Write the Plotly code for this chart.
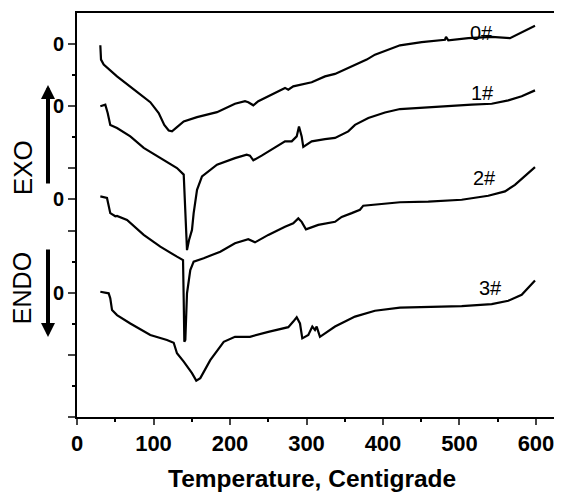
import plotly.graph_objects as go

# Temperature (°C) and offset DSC signal for each sample
t0 = [30.5, 31.4, 34.9, 52.3, 78.4, 95.8, 106.8, 114.1, 119.9, 124.2, 130.7, 139.5, 156.9, 183, 206.5,
      219.6, 223.9, 230.5, 237, 254.5, 271.9, 276.2, 282.7, 306.8, 324.2, 337.3, 359.1, 378.7, 389.5,
      406.9, 422.2, 450.6, 481, 482.4, 485.4, 511.5, 542.1, 566, 581.3, 598.7]
s0 = [11.96, 11.50, 11.34, 10.96, 10.46, 10.13, 9.78, 9.40, 9.22, 9.19, 9.33, 9.51, 9.65, 9.81, 10.08,
      10.16, 10.13, 10.03, 10.16, 10.37, 10.59, 10.53, 10.64, 10.77, 10.96, 11.04, 11.28, 11.50, 11.66,
      11.82, 11.96, 12.06, 12.14, 12.23, 12.12, 12.19, 12.23, 12.19, 12.39, 12.59]

t1 = [30.5, 37, 40.1, 43.5, 52.3, 69.7, 87.2, 108.9, 130.7, 139.5, 141.4, 143.8, 146.4, 150.3, 152.5,
      156.9, 163.4, 183, 206.5, 221.8, 226.1, 230.5, 241.4, 271.9, 280.7, 287.2, 290.2, 293.7, 295.8,
      306.8, 324.2, 337.3, 354.6, 363.4, 380.8, 402.6, 422.2, 441.8, 481, 515.9, 542.1, 563.8, 581.3, 598.7]
s1 = [10.00, 10.05, 9.78, 9.40, 9.30, 9.03, 8.66, 8.33, 8.01, 7.80, 6.66, 5.37, 5.69, 6.02, 6.56,
      7.31, 7.74, 8.12, 8.33, 8.44, 8.41, 8.26, 8.41, 8.87, 8.87, 9.03, 9.35, 9.03, 8.69,
      8.87, 8.94, 8.98, 9.19, 9.40, 9.62, 9.80, 9.91, 9.94, 10.02, 10.05, 10.08, 10.19, 10.32, 10.51]

t2 = [30.5, 39.2, 43.5, 50.1, 52.3, 65.4, 87.2, 108.9, 130.7, 138.6, 139.5, 140.3, 141.6, 143.8, 148.1,
      152.5, 165.6, 187.3, 206.5, 223.9, 232.7, 250.1, 271.9, 282.7, 289.3, 293.7, 299.3, 315.4, 337.3,
      346, 359.1, 369.9, 374.2, 389.5, 422.2, 459.2, 502.9, 537.6, 559.5, 572.5, 598.7]
s2 = [7.10, 7.05, 6.56, 6.46, 6.47, 6.34, 5.86, 5.48, 5.16, 5.05, 3.76, 2.42, 2.48, 3.98, 4.73,
      5.00, 5.11, 5.32, 5.59, 5.72, 5.62, 5.86, 6.12, 6.23, 6.39, 6.28, 6.04, 6.18, 6.28,
      6.44, 6.56, 6.67, 6.80, 6.83, 6.91, 6.93, 6.99, 7.12, 7.26, 7.47, 8.04]

t3 = [30.5, 41.4, 43.5, 45.8, 52.3, 69.7, 95.8, 117.6, 126.4, 130.7, 139.5, 150.3, 155.9, 161.2, 174.2,
      191.8, 206.5, 226.1, 250.1, 276.2, 282.7, 287.2, 291.5, 294.5, 302.4, 307.6, 311.1, 313.3, 317.6,
      337.3, 363.4, 389.5, 422.2, 459.2, 502.9, 542.1, 563.8, 581.3, 598.7]
s3 = [4.03, 3.98, 3.82, 3.44, 3.28, 3.01, 2.64, 2.48, 2.39, 2.05, 1.78, 1.41, 1.17, 1.25, 1.83,
      2.42, 2.58, 2.58, 2.74, 2.89, 3.07, 3.21, 3.01, 2.53, 2.64, 2.91, 2.80, 2.91, 2.58,
      2.91, 3.23, 3.42, 3.52, 3.55, 3.57, 3.63, 3.74, 3.93, 4.39]

labels = ["0#", "1#", "2#", "3#"]
label_t = [529, 530.7, 533.3, 539.9]
label_s = [12.36, 10.42, 7.69, 4.15]

x_ticks = [0, 100, 200, 300, 400, 500, 600]
x_minor = [50, 150, 250, 350, 450, 550]
y_major = [0, 2, 4, 6, 7, 8, 10, 12]
y_major_text = ["", "", "0", "", "0", "", "0", "0"]
y_minor = [1, 3, 5, 9, 11]

FONT = "Liberation Sans, Arial, sans-serif"

fig = go.Figure()
for t, s in [(t0, s0), (t1, s1), (t2, s2), (t3, s3)]:
    fig.add_trace(go.Scatter(x=t, y=s, mode="lines",
                             line=dict(color="black", width=2.2), showlegend=False))

for lab, lt, ls in zip(labels, label_t, label_s):
    fig.add_annotation(x=lt, y=ls, text=lab, showarrow=False, xanchor="center", yanchor="middle",
                       font=dict(family=FONT, size=20, color="black"))

# EXO / ENDO labels and arrows
fig.add_annotation(xref="paper", yref="paper", x=-0.1113, y=0.616, text="EXO", textangle=-90,
                   showarrow=False, xanchor="center", yanchor="middle",
                   font=dict(family=FONT, size=26, color="black"))
fig.add_annotation(xref="paper", yref="paper", x=-0.1134, y=0.319, text="ENDO", textangle=-90,
                   showarrow=False, xanchor="center", yanchor="middle",
                   font=dict(family=FONT, size=25, color="black"))
fig.add_annotation(xref="paper", yref="paper", x=-0.0598, y=0.822, text="", showarrow=True,
                   ax=0, ay=100, arrowhead=2, arrowwidth=4, arrowsize=0.7, arrowcolor="black")
fig.add_annotation(xref="paper", yref="paper", x=-0.0598, y=0.198, text="", showarrow=True,
                   ax=0, ay=-89, arrowhead=2, arrowwidth=4, arrowsize=0.7, arrowcolor="black")

fig.add_annotation(xref="paper", yref="paper", x=0.4845, y=-0.151, text="Temperature, Centigrade",
                   showarrow=False, xanchor="center", yanchor="middle",
                   font=dict(family=FONT, size=24.5, color="black", weight="bold"))

# the page body adds an 8px offset, so the figure is 8px smaller and margins shifted
fig.update_layout(
    width=554, height=485,
    margin=dict(l=69, r=0, t=5, b=76),
    paper_bgcolor="white", plot_bgcolor="white",
    font=dict(family=FONT, color="black"),
    xaxis=dict(range=[0, 634], tickvals=x_ticks, ticks="outside", ticklen=6, tickwidth=2,
               showline=True, linewidth=2, linecolor="black", mirror=True, showgrid=False,
               zeroline=False, tickfont=dict(family=FONT, size=22, weight="bold"),
               minor=dict(tickvals=x_minor, ticks="outside", ticklen=3,
                          tickwidth=1.5, tickcolor="black")),
    yaxis=dict(range=[0, 13], tickvals=y_major, ticktext=y_major_text, ticks="outside",
               ticklen=7, tickwidth=1.5, showline=True, linewidth=2, linecolor="black",
               showgrid=False, zeroline=False, tickfont=dict(family=FONT, size=20, weight="bold"),
               minor=dict(tickvals=y_minor, ticks="outside", ticklen=3, tickwidth=1.5,
                          tickcolor="black")),
)

fig.write_html("out.html")
